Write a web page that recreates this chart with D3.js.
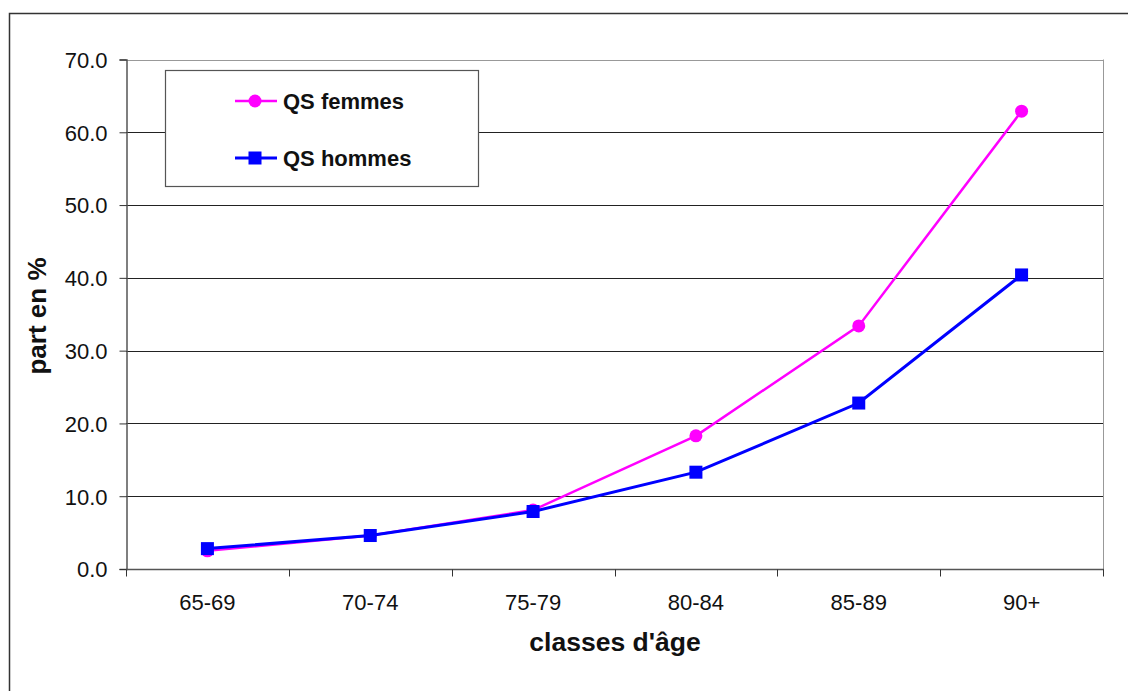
<!DOCTYPE html>
<html>
<head>
<meta charset="utf-8">
<script src="https://cdn.jsdelivr.net/npm/d3@7/dist/d3.min.js"></script>
<style>
  html, body { margin: 0; padding: 0; background: #fff; }
  svg { display: block; font-family: "Liberation Sans", Arial, sans-serif; }
</style>
</head>
<body>
<svg id="chart" width="1128" height="691"></svg>
<script>
// Age classes and shares (%) per series
const categories = ["65-69", "70-74", "75-79", "80-84", "85-89", "90+"];
const femmes = [2.5, 4.6, 8.1, 18.3, 33.4, 62.9];
const hommes = [2.8, 4.6, 7.9, 13.3, 22.8, 40.4];
const yTicks = [0, 10, 20, 30, 40, 50, 60, 70];
const seriesNames = ["QS femmes", "QS hommes"];

const svg = d3.select("#chart");
const FONT = "'Liberation Sans', Arial, sans-serif";

// Outer frame
svg.append("rect")
  .attr("x", 9.5).attr("y", 13.5)
  .attr("width", 1200).attr("height", 800)
  .attr("fill", "none").attr("stroke", "#333").attr("stroke-width", 1.5);

const plot = { left: 126, right: 1103, top: 59.5, bottom: 569 };

const x = d3.scaleBand().domain(categories).range([plot.left, plot.right]);
const y = d3.scaleLinear().domain([0, 70]).range([plot.bottom, plot.top]);

// Horizontal gridlines
svg.append("g").selectAll("line").data(yTicks.filter(d => d > 0)).join("line")
  .attr("x1", plot.left).attr("x2", plot.right)
  .attr("y1", d => Math.round(y(d)) + 0.5).attr("y2", d => Math.round(y(d)) + 0.5)
  .attr("stroke", d => d === 70 ? "#999" : "#222").attr("stroke-width", 1);

// Right border of plot area
svg.append("line")
  .attr("x1", plot.right + 0.5).attr("x2", plot.right + 0.5)
  .attr("y1", plot.top).attr("y2", plot.bottom)
  .attr("stroke", "#999");

// Y axis
const yAxis = d3.axisLeft(y).tickValues(yTicks).tickFormat(d3.format(".1f"))
  .tickSize(7).tickPadding(12);
const gy = svg.append("g").attr("transform", `translate(${plot.left + 0.5},0)`).call(yAxis);
gy.attr("font-size", 22).attr("font-family", FONT);
gy.select(".domain").attr("stroke", "#555").attr("stroke-width", 1.5);
gy.selectAll(".tick line").attr("stroke", "#333");
gy.selectAll(".tick text").attr("fill", "#111").attr("dy", "0.36em");

// X axis: ticks at band boundaries, labels at band centres
const gx = svg.append("g").attr("transform", `translate(0,${plot.bottom + 0.5})`);
gx.append("line").attr("x1", plot.left).attr("x2", plot.right + 1)
  .attr("stroke", "#555").attr("stroke-width", 1.5);
const bounds = categories.map(c => x(c)).concat([x(categories[categories.length - 1]) + x.bandwidth()]);
gx.selectAll("line.tk").data(bounds).join("line").attr("class", "tk")
  .attr("x1", d => Math.round(d) + 0.5).attr("x2", d => Math.round(d) + 0.5)
  .attr("y1", 0).attr("y2", 7).attr("stroke", "#333");
gx.selectAll("text").data(categories).join("text")
  .attr("x", d => x(d) + x.bandwidth() / 2).attr("y", 40)
  .attr("text-anchor", "middle").attr("font-size", 22).attr("fill", "#111")
  .text(d => d);

// Axis titles
svg.append("text").attr("x", 615).attr("y", 651).attr("text-anchor", "middle")
  .attr("font-size", 26.5).attr("font-weight", "bold").attr("fill", "#111")
  .text("classes d'âge");
svg.append("text").attr("transform", "translate(46,316) rotate(-90)")
  .attr("text-anchor", "middle").attr("font-size", 26).attr("font-weight", "bold").attr("fill", "#111")
  .text("part en %");

// Series
const line = d3.line().x((d, i) => x(categories[i]) + x.bandwidth() / 2).y(d => y(d));

svg.append("path").datum(femmes).attr("d", line)
  .attr("fill", "none").attr("stroke", "#ff00ff").attr("stroke-width", 2.5);
svg.append("g").selectAll("circle").data(femmes).join("circle")
  .attr("cx", (d, i) => x(categories[i]) + x.bandwidth() / 2).attr("cy", d => y(d))
  .attr("r", 6.5).attr("fill", "#ff00ff");

svg.append("path").datum(hommes).attr("d", line)
  .attr("fill", "none").attr("stroke", "#0000ff").attr("stroke-width", 3);
svg.append("g").selectAll("rect").data(hommes).join("rect")
  .attr("x", (d, i) => x(categories[i]) + x.bandwidth() / 2 - 6.5).attr("y", d => y(d) - 6.5)
  .attr("width", 13).attr("height", 13).attr("fill", "#0000ff");

// Legend
const lg = svg.append("g");
lg.append("rect").attr("x", 165.5).attr("y", 70.5).attr("width", 313).attr("height", 116)
  .attr("fill", "#fff").attr("stroke", "#555").attr("stroke-width", 1.2);
const legendRows = [
  { name: seriesNames[0], color: "#ff00ff", y: 101, shape: "circle", w: 2.5 },
  { name: seriesNames[1], color: "#0000ff", y: 158, shape: "square", w: 3 }
];
legendRows.forEach(r => {
  lg.append("line").attr("x1", 235).attr("x2", 277).attr("y1", r.y).attr("y2", r.y)
    .attr("stroke", r.color).attr("stroke-width", r.w);
  if (r.shape === "circle") {
    lg.append("circle").attr("cx", 255).attr("cy", r.y).attr("r", 6.5).attr("fill", r.color);
  } else {
    lg.append("rect").attr("x", 248.5).attr("y", r.y - 6.5).attr("width", 13).attr("height", 13).attr("fill", r.color);
  }
  lg.append("text").attr("x", 283).attr("y", r.y + 7.5).attr("font-size", 22)
    .attr("font-weight", "bold").attr("fill", "#111").text(r.name);
});
</script>
</body>
</html>
